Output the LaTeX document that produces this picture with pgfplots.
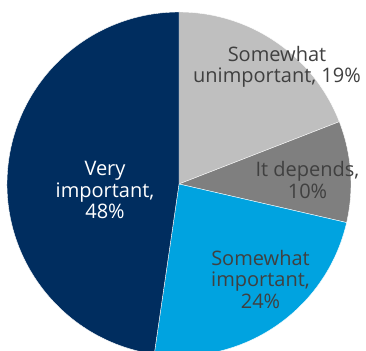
\documentclass[border=0pt]{standalone}
\usepackage{fontspec}
\setmainfont{Open Sans}
\usepackage{pgfplots}
\usepackage{pgfplotstable}
\pgfplotsset{compat=1.18}
\definecolor{cLight}{HTML}{BFBFBF}
\definecolor{cDark}{HTML}{7F7F7F}
\definecolor{cBlue}{HTML}{00A3E0}
\definecolor{cNavy}{HTML}{002D5F}
\definecolor{cText}{HTML}{404040}
\pgfplotstableread{
label value
unimportant 19.1
depends 9.5
important 23.7
very 47.7
}\piedata
\begin{document}
\begin{tikzpicture}
\pgfplotstablegetelem{0}{value}\of\piedata \let\vA\pgfplotsretval
\pgfplotstablegetelem{1}{value}\of\piedata \let\vB\pgfplotsretval
\pgfplotstablegetelem{2}{value}\of\piedata \let\vC\pgfplotsretval
\pgfplotstablegetelem{3}{value}\of\piedata \let\vD\pgfplotsretval
\pgfmathsetmacro\sA{90}
\pgfmathsetmacro\eA{\sA-3.6*\vA}
\pgfmathsetmacro\eB{\eA-3.6*\vB}
\pgfmathsetmacro\eC{\eB-3.6*\vC}
\pgfmathsetmacro\eD{\eC-3.6*\vD}
\begin{axis}[scale only axis, width=366bp, height=351bp,
  xmin=0, xmax=366, ymin=0, ymax=351, hide axis, clip=true]
\fill[cLight, draw=white, line width=0.4bp] (axis cs:179,167) -- ++(\sA:172bp) arc[start angle=\sA, end angle=\eA, radius=172bp] -- cycle;
\fill[cDark, draw=white, line width=0.4bp] (axis cs:179,167) -- ++(\eA:172bp) arc[start angle=\eA, end angle=\eB, radius=172bp] -- cycle;
\fill[cBlue, draw=white, line width=0.4bp] (axis cs:179,167) -- ++(\eB:172bp) arc[start angle=\eB, end angle=\eC, radius=172bp] -- cycle;
\fill[cNavy, draw=white, line width=0.4bp] (axis cs:179,167) -- ++(\eC:172bp) arc[start angle=\eC, end angle=\eD, radius=172bp] -- cycle;
\tikzset{lbl/.style={anchor=base, inner sep=0pt, font=\fontsize{20bp}{22bp}\selectfont}}
\node[lbl, text=cText] at (axis cs:277,289) {Somewhat};
\node[lbl, text=cText] at (axis cs:277,268) {unimportant, 19\%};
\node[lbl, text=cText] at (axis cs:307.5,174) {It depends,};
\node[lbl, text=cText] at (axis cs:307.5,152) {10\%};
\node[lbl, text=cText] at (axis cs:260.5,85) {Somewhat};
\node[lbl, text=cText] at (axis cs:260.5,64) {important,};
\node[lbl, text=cText] at (axis cs:260.5,42) {24\%};
\node[lbl, text=white] at (axis cs:105,175) {Very};
\node[lbl, text=white] at (axis cs:105,153) {important,};
\node[lbl, text=white] at (axis cs:105,132) {48\%};
\end{axis}
\pgfresetboundingbox
\path (current axis.south west) rectangle (current axis.north east);
\end{tikzpicture}
\end{document}
